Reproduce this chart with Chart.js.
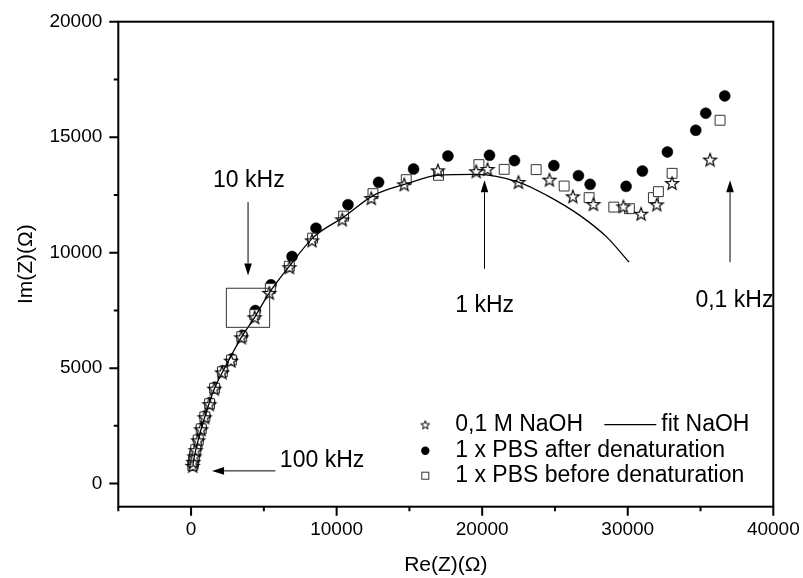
<!DOCTYPE html>
<html>
<head>
<meta charset="utf-8">
<script src="https://cdn.jsdelivr.net/npm/chart.js@4.4.1/dist/chart.umd.min.js"></script>
<style>
  html, body { margin: 0; padding: 0; background: #fff; }
  canvas { display: block; }
</style>
</head>
<body>
<canvas id="chart" width="803" height="578"></canvas>
<script>
// ---------------------------------------------------------------------------
// DATA
// ---------------------------------------------------------------------------

// 0,1 M NaOH (stars)
const naohRe = [110, 158, 227, 316, 481, 687, 934, 1256, 1600, 2128, 2746, 3454, 4367, 5376, 6760,
  8308, 10388, 12379, 14645, 16959, 19589, 20365, 22493, 24622, 26229, 27643, 29703, 30918, 31996, 33047, 35656];
const naohIm = [768, 941, 1180, 1449, 1874, 2351, 2872, 3436, 4108, 4815, 5323, 6333, 7201, 8260, 9370,
  10529, 11440, 12363, 12958, 13565, 13522, 13621, 13057, 13161, 12437, 12103, 12003, 11687, 12090, 13014, 14029];

// 1 x PBS after denaturation (filled circles)
const afterRe = [140, 165, 235, 330, 500, 710, 960, 1290, 1640, 2180, 2800, 3520, 4415, 5493, 6935,
  8583, 10780, 12881, 15284, 17646, 20502, 22218, 24924, 26613, 27416, 29888, 31007, 32724, 34674, 35360, 36664];
const afterIm = [800, 980, 1220, 1490, 1910, 2400, 2920, 3500, 4170, 4890, 5400, 6420, 7492, 8607, 9834,
  11062, 12077, 13044, 13621, 14185, 14216, 13986, 13769, 13335, 12958, 12871, 13535, 14359, 15300, 16038, 16788];

// 1 x PBS before denaturation (open squares)
const beforeRe = [120, 160, 230, 320, 490, 695, 945, 1270, 1615, 2150, 2770, 3480, 4380, 5445, 6749,
  8349, 10478, 12496, 14782, 17000, 19774, 21511, 23708, 25631, 27347, 29043, 30114, 31762, 32106, 33047, 36342];
const beforeIm = [790, 960, 1200, 1470, 1890, 2370, 2890, 3460, 4130, 4840, 5350, 6360, 7318, 8446, 9413,
  10628, 11582, 12554, 13161, 13348, 13812, 13608, 13595, 12884, 12381, 11973, 11904, 12381, 12641, 13435, 15734];

// fit NaOH (line)
const fitRe = [124, 227, 481, 934, 1600, 2355, 3454, 4367, 5376, 6701, 8418, 10478, 12537, 14831,
  16891, 19637, 22493, 24443, 26730, 28563, 30094];
const fitIm = [811, 1180, 1874, 2872, 4108, 5063, 6333, 7201, 8260, 9370, 10672, 11539, 12481, 12988,
  13348, 13391, 13057, 12481, 11604, 10672, 9587];

// axis ticks
const xMajor = [0, 10000, 20000, 30000, 40000];
const xMinor = [-5000, 5000, 15000, 25000, 35000];
const yMajor = [0, 5000, 10000, 15000, 20000];
const yMinor = [2500, 7500, 12500, 17500];

// annotations (data units)
const noteLabels = ['10 kHz', '1 kHz', '0,1 kHz', '100 kHz'];
const noteAt = [[1510, 13123], [18147, 7709], [34650, 7926], [6100, 985]];
const arrows = [[3914, 12190, 3914, 9010], [20159, 9301, 20159, 13131], [37028, 9587, 37028, 13131], [5788, 551, 1442, 551]];
const zoomBox = [2424, 8459, 5397, 6767];

// ---------------------------------------------------------------------------
// HELPERS
// ---------------------------------------------------------------------------

const FONT = '"Liberation Sans", Arial, sans-serif';

function toPoints(xs, ys) {
  return xs.map((v, i) => ({ x: v, y: ys[i] }));
}

// open five-point star used as marker
function makeStar(r, lw) {
  const size = Math.ceil(r * 2 + 4);
  const c = document.createElement('canvas');
  c.width = size;
  c.height = size;
  const g = c.getContext('2d');
  const cx = size / 2, cy = size / 2 + r * 0.1;
  g.beginPath();
  for (let i = 0; i < 10; i++) {
    const rad = i % 2 ? r * 0.42 : r;
    const ang = -Math.PI / 2 + i * Math.PI / 5;
    g.lineTo(cx + rad * Math.cos(ang), cy + rad * Math.sin(ang));
  }
  g.closePath();
  g.fillStyle = '#fff';
  g.fill();
  g.lineWidth = lw;
  g.strokeStyle = '#000';
  g.stroke();
  return c;
}

const starBig = makeStar(6.8, 1.2);
const starSmall = makeStar(4.6, 1);

function arrowLine(ctx, x1, y1, x2, y2) {
  const ang = Math.atan2(y2 - y1, x2 - x1);
  const len = 12, half = 3.8;
  ctx.beginPath();
  ctx.moveTo(x1, y1);
  ctx.lineTo(x2 - len * Math.cos(ang), y2 - len * Math.sin(ang));
  ctx.stroke();
  ctx.beginPath();
  ctx.moveTo(x2, y2);
  ctx.lineTo(x2 - len * Math.cos(ang) - half * Math.sin(ang), y2 - len * Math.sin(ang) + half * Math.cos(ang));
  ctx.lineTo(x2 - len * Math.cos(ang) + half * Math.sin(ang), y2 - len * Math.sin(ang) - half * Math.cos(ang));
  ctx.closePath();
  ctx.fill();
}

// ---------------------------------------------------------------------------
// PLUGINS
// ---------------------------------------------------------------------------

// box round the plot and outward tick marks
const framePlugin = {
  id: 'frame',
  afterDraw(chart) {
    const { ctx, chartArea: a, scales: { x, y } } = chart;
    ctx.save();
    ctx.strokeStyle = '#000';
    ctx.lineWidth = 2;
    ctx.strokeRect(a.left, a.top, a.right - a.left, a.bottom - a.top);
    ctx.beginPath();
    xMajor.forEach(v => { const p = x.getPixelForValue(v); ctx.moveTo(p, a.bottom); ctx.lineTo(p, a.bottom + 9); });
    xMinor.forEach(v => { const p = x.getPixelForValue(v); ctx.moveTo(p, a.bottom); ctx.lineTo(p, a.bottom + 4.5); });
    yMajor.forEach(v => { const p = y.getPixelForValue(v); ctx.moveTo(a.left, p); ctx.lineTo(a.left - 9, p); });
    yMinor.forEach(v => { const p = y.getPixelForValue(v); ctx.moveTo(a.left, p); ctx.lineTo(a.left - 4.5, p); });
    ctx.stroke();
    ctx.restore();
  }
};

// frequency labels, arrows and the small box
const notesPlugin = {
  id: 'notes',
  afterDraw(chart) {
    const { ctx, scales: { x, y } } = chart;
    ctx.save();
    ctx.strokeStyle = '#000';
    ctx.fillStyle = '#000';
    ctx.lineWidth = 1;
    arrows.forEach(a => arrowLine(ctx, x.getPixelForValue(a[0]), y.getPixelForValue(a[1]),
      x.getPixelForValue(a[2]), y.getPixelForValue(a[3])));
    ctx.strokeStyle = '#333';
    const bx1 = x.getPixelForValue(zoomBox[0]), by1 = y.getPixelForValue(zoomBox[1]);
    const bx2 = x.getPixelForValue(zoomBox[2]), by2 = y.getPixelForValue(zoomBox[3]);
    ctx.strokeRect(bx1, by1, bx2 - bx1, by2 - by1);
    ctx.font = '23px ' + FONT;
    ctx.textBaseline = 'middle';
    ctx.textAlign = 'left';
    noteLabels.forEach((t, i) => ctx.fillText(t, x.getPixelForValue(noteAt[i][0]), y.getPixelForValue(noteAt[i][1])));
    ctx.restore();
  }
};

// legend in the lower right corner
const legendPlugin = {
  id: 'customLegend',
  afterDraw(chart) {
    const { ctx, chartArea: a } = chart;
    const mx = a.left + 307, tx = a.left + 337;
    const rows = [a.bottom - 82, a.bottom - 56, a.bottom - 31];
    ctx.save();
    ctx.font = '23px ' + FONT;
    ctx.textBaseline = 'middle';
    ctx.fillStyle = '#000';
    // row 1: star + fit line
    ctx.drawImage(starSmall, mx - starSmall.width / 2, rows[0] - starSmall.height / 2);
    ctx.fillText('0,1 M NaOH', tx, rows[0]);
    ctx.strokeStyle = '#000';
    ctx.lineWidth = 1.3;
    ctx.beginPath();
    ctx.moveTo(a.left + 486, rows[0]);
    ctx.lineTo(a.left + 538, rows[0]);
    ctx.stroke();
    ctx.fillText('fit NaOH', a.left + 543, rows[0]);
    // row 2: filled circle
    ctx.beginPath();
    ctx.arc(mx, rows[1], 4.2, 0, Math.PI * 2);
    ctx.fill();
    ctx.fillText('1 x PBS after denaturation', tx, rows[1]);
    // row 3: open square
    ctx.fillStyle = '#fff';
    ctx.strokeStyle = '#333';
    ctx.lineWidth = 1;
    ctx.fillRect(mx - 3.5, rows[2] - 3.5, 7, 7);
    ctx.strokeRect(mx - 3.5, rows[2] - 3.5, 7, 7);
    ctx.fillStyle = '#000';
    ctx.fillText('1 x PBS before denaturation', tx, rows[2]);
    ctx.restore();
  }
};

// ---------------------------------------------------------------------------
// CHART
// ---------------------------------------------------------------------------

function createChart() {
  const ctx = document.getElementById('chart').getContext('2d');
  return new Chart(ctx, {
    type: 'scatter',
    data: {
      datasets: [
        {
          label: 'fit NaOH',
          data: toPoints(fitRe, fitIm),
          showLine: true,
          borderColor: '#000',
          borderWidth: 1.3,
          pointRadius: 0,
          cubicInterpolationMode: 'monotone'
        },
        {
          label: '0,1 M NaOH',
          data: toPoints(naohRe, naohIm),
          pointStyle: starBig,
          pointRadius: 6
        },
        {
          label: '1 x PBS before denaturation',
          data: toPoints(beforeRe, beforeIm),
          pointStyle: 'rect',
          pointRadius: 7,
          pointBackgroundColor: '#fff',
          pointBorderColor: '#333',
          pointBorderWidth: 1
        },
        {
          label: '1 x PBS after denaturation',
          data: toPoints(afterRe, afterIm),
          pointStyle: 'circle',
          pointRadius: 5.5,
          pointBackgroundColor: '#000',
          pointBorderColor: '#000',
          pointBorderWidth: 0.5
        }
      ]
    },
    options: {
      responsive: false,
      animation: false,
      events: [],
      layout: { padding: { top: 21.7, right: 29.7, left: 0, bottom: 0 } },
      plugins: {
        legend: { display: false },
        tooltip: { enabled: false }
      },
      scales: {
        x: {
          type: 'linear',
          min: -5000,
          max: 40000,
          grid: { display: false, drawTicks: false },
          border: { display: false },
          afterBuildTicks: s => { s.ticks = xMajor.map(v => ({ value: v })); },
          afterFit: s => { s.height = 71.3; s.paddingLeft = 0; s.paddingRight = 0; },
          ticks: {
            color: '#000',
            font: { family: FONT, size: 19 },
            padding: 12,
            maxRotation: 0,
            autoSkip: false,
            callback: v => String(v)
          },
          title: {
            display: true,
            text: 'Re(Z)(Ω)',
            color: '#000',
            font: { family: FONT, size: 21 },
            padding: { top: 0, bottom: 0 }
          }
        },
        y: {
          type: 'linear',
          min: -1000,
          max: 20000,
          grid: { display: false, drawTicks: false },
          border: { display: false },
          afterBuildTicks: s => { s.ticks = yMajor.map(v => ({ value: v })); },
          afterFit: s => { s.width = 118.3; s.paddingTop = 0; s.paddingBottom = 0; },
          ticks: {
            color: '#000',
            font: { family: FONT, size: 19 },
            padding: 16,
            autoSkip: false,
            callback: v => String(v)
          },
          title: {
            display: true,
            text: 'Im(Z)(Ω)',
            color: '#000',
            font: { family: FONT, size: 21 },
            padding: { top: 14, bottom: 0 }
          }
        }
      }
    },
    plugins: [framePlugin, notesPlugin, legendPlugin]
  });
}

window.addEventListener('DOMContentLoaded', () => {
  createChart();
});
</script>
</body>
</html>
